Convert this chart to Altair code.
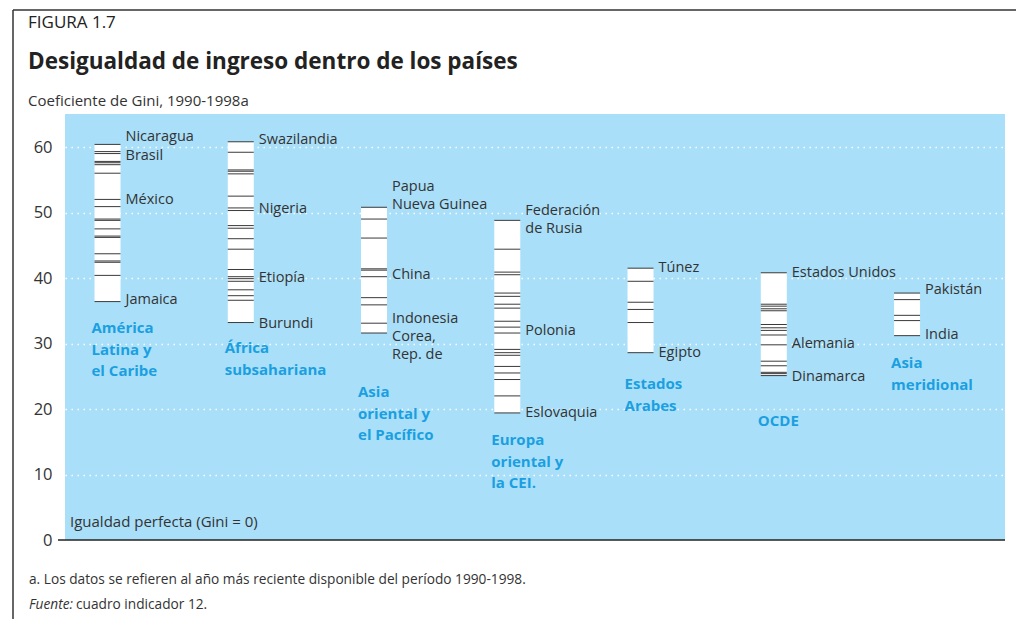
import altair as alt
import pandas as pd

FONT = "Open Sans"

regions = ["América Latina y el Caribe", "África subsahariana", "Asia oriental y el Pacífico",
           "Europa oriental y la CEI", "Estados Arabes", "OCDE", "Asia meridional"]
region_labels = ["América\nLatina y\nel Caribe", "África\nsubsahariana", "Asia\noriental y\nel Pacífico",
                 "Europa\noriental y\nla CEI.", "Estados\nArabes", "OCDE", "Asia\nmeridional"]
region_label_y = [33.4, 30.35, 23.6, 16.3, 24.85, 19.2, 28.06]

gini_latam = [60.4, 59.3, 59.0, 57.8, 57.6, 57.3, 56.0, 52.0, 50.9, 49.0, 48.8, 47.5, 46.4, 46.2,
              43.7, 42.6, 42.4, 40.4, 36.4]
gini_africa = [60.8, 59.2, 56.5, 56.3, 55.9, 52.5, 50.7, 50.3, 48.0, 47.6, 46.0, 44.4, 41.3, 40.2,
               39.9, 39.5, 38.2, 37.3, 36.6, 33.2]
gini_eastasia = [50.8, 49.0, 46.1, 41.4, 41.2, 40.2, 37.0, 35.9, 33.1, 31.6]
gini_europe = [48.8, 44.4, 40.9, 40.5, 37.7, 37.2, 36.0, 35.4, 33.4, 32.5, 31.6, 29.1, 28.6, 28.2,
               26.5, 25.5, 24.5, 22.0, 19.4]
gini_arab = [41.5, 39.5, 36.3, 35.2, 33.2, 28.6]
gini_oecd = [40.8, 36.0, 35.7, 35.3, 35.0, 32.9, 32.4, 32.0, 31.3, 29.8, 27.3, 26.6, 25.6, 25.4, 25.1]
gini_southasia = [37.7, 36.7, 34.3, 33.5, 31.2]
all_gini = [gini_latam, gini_africa, gini_eastasia, gini_europe, gini_arab, gini_oecd, gini_southasia]

label_region = [0, 0, 0, 0, 1, 1, 1, 1, 2, 2, 2, 3, 3, 3, 4, 4, 5, 5, 5, 6, 6]
label_text = ["Nicaragua", "Brasil", "México", "Jamaica",
              "Swazilandia", "Nigeria", "Etiopía", "Burundi",
              "Papua\nNueva Guinea", "China", "Indonesia\nCorea,\nRep. de",
              "Federación\nde Rusia", "Polonia", "Eslovaquia",
              "Túnez", "Egipto",
              "Estados Unidos", "Alemania", "Dinamarca",
              "Pakistán", "India"]
label_y = [61.6, 58.7, 51.9, 36.7, 61.0, 50.6, 40.0, 33.0, 53.9, 40.5, 33.8, 50.3, 31.9, 19.4,
           41.6, 28.6, 40.8, 30.0, 24.9, 38.2, 31.3]

y_ticks = [0, 10, 20, 30, 40, 50, 60]

W, H = 940, 426
HALF = 0.0976
xs = alt.Scale(domain=[-0.319, 6.735])
ys = alt.Scale(domain=[0, 65.04])

ticks_df = pd.DataFrame([{"i": i, "region": regions[i], "gini": v}
                         for i, vals in enumerate(all_gini) for v in vals])
cols_df = pd.DataFrame([{"i": i, "region": regions[i], "lo": min(vals), "hi": max(vals)}
                        for i, vals in enumerate(all_gini)])
lab_df = pd.DataFrame({"i": label_region, "txt": label_text, "y": label_y})
reg_df = pd.DataFrame({"i": list(range(len(regions))), "txt": region_labels, "y": region_label_y})
one = alt.Data(values=[{}])

axis_layer = alt.Chart(pd.DataFrame({"v": y_ticks})).mark_point(opacity=0).encode(
    y=alt.Y("v:Q", scale=ys, axis=alt.Axis(values=y_ticks, title=None, domain=False, ticks=False,
                                             labelFontSize=16.5, labelColor="#333333", labelFont=FONT,
                                             labelPadding=13, grid=True, gridColor="white",
                                             gridDash=[1.5, 4.5], gridWidth=1.3)),
)

cols = alt.Chart(cols_df).transform_calculate(
    x1=f"datum.i - {HALF}", x2=f"datum.i + {HALF}"
).mark_rect(color="white").encode(
    x=alt.X("x1:Q", scale=xs, axis=None), x2="x2:Q",
    y=alt.Y("lo:Q", scale=ys), y2="hi:Q",
)

ticks = alt.Chart(ticks_df).transform_calculate(
    x1=f"datum.i - {HALF}", x2=f"datum.i + {HALF}"
).mark_rule(color="#3a3a3a", strokeWidth=1).encode(
    x=alt.X("x1:Q", scale=xs, axis=None), x2="x2:Q",
    y=alt.Y("gini:Q", scale=ys),
)

labels = alt.Chart(lab_df).transform_calculate(
    x2=f"datum.i + {HALF}"
).mark_text(align="left", baseline="middle", dx=5, fontSize=14.5, font=FONT, color="#333333",
            lineBreak="\n", lineHeight=18).encode(
    x=alt.X("x2:Q", scale=xs, axis=None), y=alt.Y("y:Q", scale=ys), text="txt:N",
)

reg_labels = alt.Chart(reg_df).transform_calculate(
    x1=f"datum.i - {HALF}"
).mark_text(align="left", baseline="top", dx=-3, fontSize=15, fontWeight="bold", font=FONT,
            color="#1b9fe0", lineBreak="\n", lineHeight=21.5).encode(
    x=alt.X("x1:Q", scale=xs, axis=None), y=alt.Y("y:Q", scale=ys), text="txt:N",
)

baseline = alt.Chart(one).mark_rule(color="#222222", strokeWidth=1.5).encode(
    x=alt.value(-7), x2=alt.value(W), y=alt.value(H)
)

igualdad = alt.Chart(one).mark_text(text="Igualdad perfecta (Gini = 0)", align="left", baseline="middle",
                                    fontSize=15, font=FONT, color="#333333").encode(
    x=alt.value(5), y=alt.value(H - 18)
)

frame_left = alt.Chart(one).mark_rule(color="#333333", strokeWidth=1.5).encode(
    x=alt.value(-52), y=alt.value(-104), y2=alt.value(H + 79)
)
frame_top = alt.Chart(one).mark_rule(color="#333333", strokeWidth=1.5).encode(
    x=alt.value(-52), x2=alt.value(W + 11), y=alt.value(-104)
)

fig = alt.Chart(one).mark_text(text="FIGURA 1.7", align="left", baseline="middle", fontSize=17,
                               font=FONT, color="#222222").encode(x=alt.value(-37), y=alt.value(-91))
title = alt.Chart(one).mark_text(text="Desigualdad de ingreso dentro de los países", align="left",
                                 baseline="middle", fontSize=22.5, fontWeight="bold", font=FONT,
                                 color="#222222").encode(x=alt.value(-37), y=alt.value(-52))
subtitle = alt.Chart(one).mark_text(text="Coeficiente de Gini, 1990-1998a", align="left",
                                    baseline="middle", fontSize=15, font=FONT,
                                    color="#333333").encode(x=alt.value(-37), y=alt.value(-13))
note = alt.Chart(one).mark_text(text="a. Los datos se refieren al año más reciente disponible del período 1990-1998.",
                                align="left", baseline="middle", fontSize=13.7, font=FONT,
                                color="#333333").encode(x=alt.value(-36), y=alt.value(466))
fuente = alt.Chart(one).mark_text(text="Fuente:", align="left", baseline="middle", fontSize=13.7,
                                  font=FONT, fontStyle="italic", color="#333333").encode(
    x=alt.value(-36), y=alt.value(491))
fuente2 = alt.Chart(one).mark_text(text="cuadro indicador 12.", align="left", baseline="middle",
                                   fontSize=13.7, font=FONT, color="#333333").encode(
    x=alt.value(11), y=alt.value(491))

chart = alt.layer(
    axis_layer, cols, ticks, labels, reg_labels, baseline, igualdad,
    frame_left, frame_top, fig, title, subtitle, note, fuente, fuente2
).properties(
    width=W, height=H,
    autosize=alt.AutoSizeParams(type="none"),
    padding={"left": 57, "top": 106, "right": 11, "bottom": 79},
    background="white",
).configure_view(fill="#a9dff9", stroke=None)

chart.save("out.html", embed_options={"renderer": "svg", "actions": False})
